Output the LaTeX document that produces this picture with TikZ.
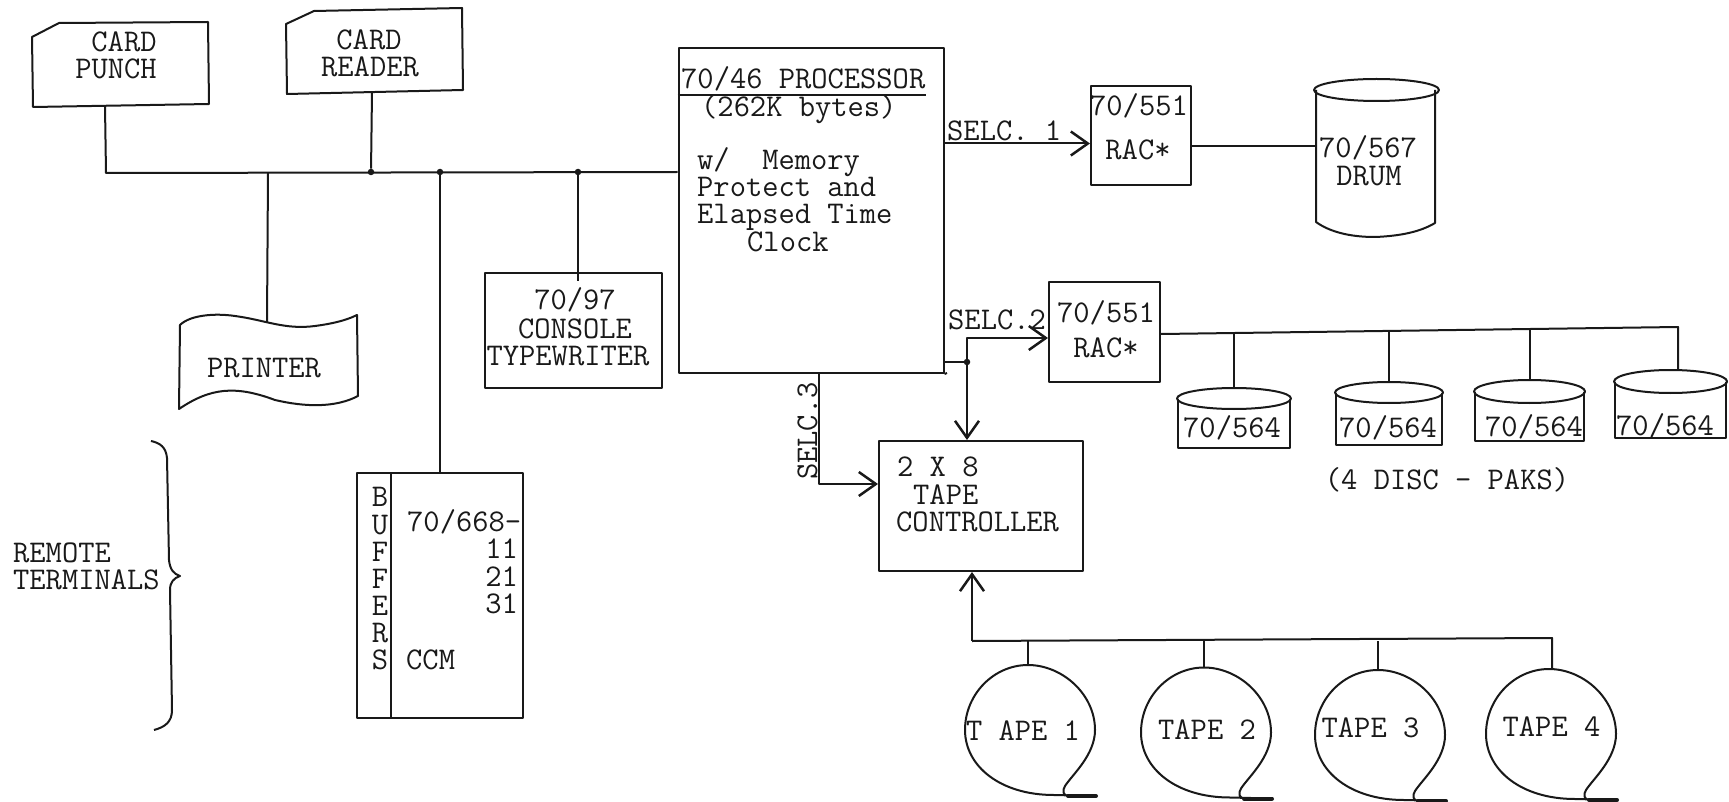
\documentclass[tikz,border=0pt]{standalone}
\usepackage{fontspec}
\usetikzlibrary{arrows.meta}
\tikzset{
  ink/.style={draw=black!90,line width=2pt,line join=round},
  box/.style={ink,rectangle,inner sep=0pt,fill=none},
  txt/.style={inner sep=0pt,text height=18pt,text depth=0pt,font=\fontsize{31.6}{31.6}\selectfont\ttfamily\addfontfeature{FakeBold=0.5},text=black!90},
  link/.style={ink},
  arrowlink/.style={ink,-{Straight Barb[length=17pt,width=24pt,line width=2.5pt]}},
  junction/.style={circle,fill=black!90,inner sep=0pt,minimum size=6.5pt},
}
\newcommand{\tapereel}[3]{%
  \begin{scope}[shift={(#1,#2)}]
    \draw[ink] (66,66) -- (24,65) .. controls (-30,65) and (-65,36) .. (-65,0)
      .. controls (-65,-36) and (-36,-65) .. (-2,-65)
      .. controls (32,-65) and (65,-36) .. (65,0)
      .. controls (65,25) and (42,45) .. (35,56)
      .. controls (32,61) and (33,65) .. (38,66);
    \draw[ink,line width=4pt,line cap=round] (38,66) -- (66,66);
    \coordinate (#3) at (-2,-65);
  \end{scope}}
\newcommand{\disccyl}[6]{% left right ytop ymid ybottom name
  \draw[ink] ({(#1+#2)/2},#4) ellipse ({(#2-#1)/2} and {#4-#3});
  \draw[ink] (#1+1,#4) -- (#1+1,#5) -- (#2-1,#5) -- (#2-1,#4);
  \coordinate (#6) at ({(#1+#2)/2},#3);}
\begin{document}
\begin{tikzpicture}[x=1pt,y=-1pt]
\useasboundingbox (0,0) rectangle (1729,802);
% card punch
\draw[ink] (32,37) -- (59,23) -- (208,22) -- (209,104) -- (33,107) -- cycle;
\node[txt] (punch1) at (124,43) {CARD};
\node[txt] (punch2) at (116,70) {PUNCH};
\coordinate (punchb) at (105,106);
% card reader
\draw[ink] (286,24) -- (314,11) -- (462,8) -- (463,90) -- (287,94) -- cycle;
\node[txt] (reader1) at (369,41) {CARD};
\node[txt] (reader2) at (370,68) {READER};
\coordinate (readerb) at (372,92);
% printer
\draw[ink] (180,325) .. controls (190,315) and (215,313) .. (235,316)
  .. controls (265,320) and (285,330) .. (315,326)
  .. controls (330,324) and (345,321) .. (357,315) -- (358,396)
  .. controls (335,408) and (305,407) .. (275,400)
  .. controls (235,385) and (210,388) .. (179,409) -- cycle;
\node[txt] (printer) at (264,368) {PRINTER};
\coordinate (printert) at (267,322);
% console
\node[box,minimum width=177pt,minimum height=115pt] (console) at (573.5,330.5) {};
\node[txt] (con1) at (575,300) {70/97};
\node[txt] (con2) at (575,329) {CONSOLE};
\node[txt] (con3) at (568,356) {TYPEWRITER};
\coordinate (consolet) at (578,281);
% processor
\node[box,minimum width=265pt,minimum height=325pt] (proc) at (811,210.5) {};
\coordinate (ulL) at (proc.west |- 0,95);
\coordinate (ulR) at (926,95);
\draw[link] (ulL) -- (ulR);
\node[txt,anchor=west] (p1) at (681,80) {70/46 PROCESSOR};
\node[txt,anchor=west] (p2) at (701,108) {(262K bytes)};
\node[txt,anchor=west] (p3) at (697,161) {w/\ \ Memory};
\node[txt,anchor=west] (p4) at (697,188) {Protect and};
\node[txt,anchor=west] (p5) at (697,215) {Elapsed Time};
\node[txt,anchor=west] (p6) at (747,243) {Clock};
% bus
\coordinate (busL) at (106,173);
\coordinate (busR) at (proc.west |- 0,172);
\draw[link] (punchb) -- (busL) -- (busR);
\node[junction] (j1) at (371,172) {};
\node[junction] (j2) at (440,172) {};
\node[junction] (j3) at (578,172) {};
\draw[link] (readerb) -- (j1);
\draw[link] (j3) -- (consolet);
\coordinate (busP) at (268,173);
\draw[link] (busP) -- (printert);
% CCM
\node[box,minimum width=166pt,minimum height=245pt] (ccm) at (440,595.5) {};
\coordinate (divT) at (391,473);
\coordinate (divB) at (391,718);
\draw[link] (divT) -- (divB);
\draw[link] (j2) -- (ccm.north -| j2);
\foreach \n/\l/\yy in {a/B/497,b/U/525,c/F/552,d/F/579,e/E/606,f/R/633,g/S/660}
  \node[txt] (buf\n) at (380,\yy) {\l};
\node[txt,anchor=west] (m1) at (407,522) {70/668-};
\node[txt,anchor=east] (m2) at (518,549) {11};
\node[txt,anchor=east] (m3) at (518,577) {21};
\node[txt,anchor=east] (m4) at (518,604) {31};
\node[txt,anchor=west] (m5) at (406,660) {CCM};
% remote terminals
\node[txt,anchor=west] (rt1) at (13,553) {REMOTE};
\node[txt,anchor=west] (rt2) at (13,580) {TERMINALS};
\draw[ink] (151,441) .. controls (160,443) and (166,447) .. (167,458)
  -- (169,560) .. controls (170,570) and (174,574) .. (180,576)
  .. controls (174,578) and (170,582) .. (170,590)
  -- (172,710) .. controls (172,722) and (165,727) .. (154,730);
% rac1
\node[box,minimum width=100pt,minimum height=99pt] (rac1) at (1141,135.5) {};
\node[txt] (r11) at (1139,107) {70/551};
\node[txt] (r12) at (1138,151) {RAC*};
\draw[arrowlink] (proc.east |- rac1.west) ++(0,8) coordinate (s1) -- (rac1.west |- s1);
\node[txt,anchor=west] (sel1) at (947,132) {SELC. 1};
% drum
\draw[ink] (1376.5,90) ellipse (62.5 and 11);
\draw[ink] (1316,90) -- (1316,222) .. controls (1330,232) and (1350,237) .. (1375,237)
  .. controls (1400,236) and (1420,232) .. (1435,223) -- (1435,90);
\coordinate (drumL) at (1316,146);
\node[txt] (d1) at (1368,149) {70/567};
\node[txt] (d2) at (1369,177) {DRUM};
\draw[link] (rac1.east |- drumL) -- (drumL);
% rac2
\node[box,minimum width=111pt,minimum height=100pt] (rac2) at (1104.5,332) {};
\node[txt] (r21) at (1106,313) {70/551};
\node[txt] (r22) at (1106,348) {RAC*};
\node[txt,anchor=west] (sel2) at (948,321) {SELC.2};
% tape controller
\node[box,minimum width=204pt,minimum height=130pt] (ctrl) at (981,506) {};
\node[txt,anchor=west] (c1) at (897,467) {2 X 8};
\node[txt,anchor=west] (c2) at (913,495) {TAPE};
\node[txt,anchor=west] (c3) at (896,522) {CONTROLLER};
% selector 2
\coordinate (stub) at (proc.east |- 0,362);
\node[junction] (j4) at (967,362) {};
\coordinate (s2c) at (967,338);
\coordinate (botR) at (947,373);
\draw[link] (proc.south east) -- (botR);
\draw[link] (stub) -- (j4);
\draw[arrowlink] (j4) -- (s2c) -- (rac2.west |- s2c);
\draw[arrowlink] (j4) -- (ctrl.north -| j4);
% selector 3
\coordinate (s3t) at (819,373);
\coordinate (s3b) at (819,484);
\draw[arrowlink] (s3t) -- (s3b) -- (ctrl.west |- s3b);
\node[txt,rotate=90] (sel3) at (808,431) {SELC.3};
% discs
\disccyl{1177}{1291}{388}{398.5}{448}{da}
\disccyl{1335}{1443}{382}{392.5}{445}{db}
\disccyl{1474}{1585}{380}{391.5}{441}{dc}
\disccyl{1614}{1727}{370}{381.5}{438}{dd}
\node[txt] (t1) at (1232,428) {70/564};
\node[txt] (t2) at (1388,428) {70/564};
\node[txt] (t3) at (1534,427) {70/564};
\node[txt] (t4) at (1665,426) {70/564};
\node[txt] (paks) at (1447,480) {(4 DISC - PAKS)};
\coordinate (dbus0) at (rac2.east |- 0,334);
\coordinate (dbus4) at (1678,327);
\draw[link] (dbus0) -- (dbus4) -- (dbus4 |- dd);
\draw[link] (da) -- (da |- 0,333);
\draw[link] (db) -- (db |- 0,331);
\draw[link] (dc) -- (dc |- 0,329);
% tapes
\tapereel{1030}{730}{ta}
\tapereel{1206}{732.5}{tb}
\tapereel{1380}{735}{tc}
\tapereel{1551}{734}{td}
\node[txt] (tt1) at (1023,731) {T APE 1};
\node[txt] (tt2) at (1207,730) {TAPE 2};
\node[txt] (tt3) at (1370.5,728) {TAPE 3};
\node[txt] (tt4) at (1551.5,727) {TAPE 4};
\coordinate (tbusL) at (972,641);
\coordinate (tbusR) at (1552,638);
\draw[arrowlink] (tbusL) -- (ctrl.south -| tbusL);
\draw[link] (tbusL) -- (tbusR) -- (tbusR |- td);
\draw[link] (ta) -- (ta |- tbusL);
\draw[link] (tb) -- (tb |- tbusL);
\draw[link] (tc) -- (tc |- tbusL);
\end{tikzpicture}
\end{document}
